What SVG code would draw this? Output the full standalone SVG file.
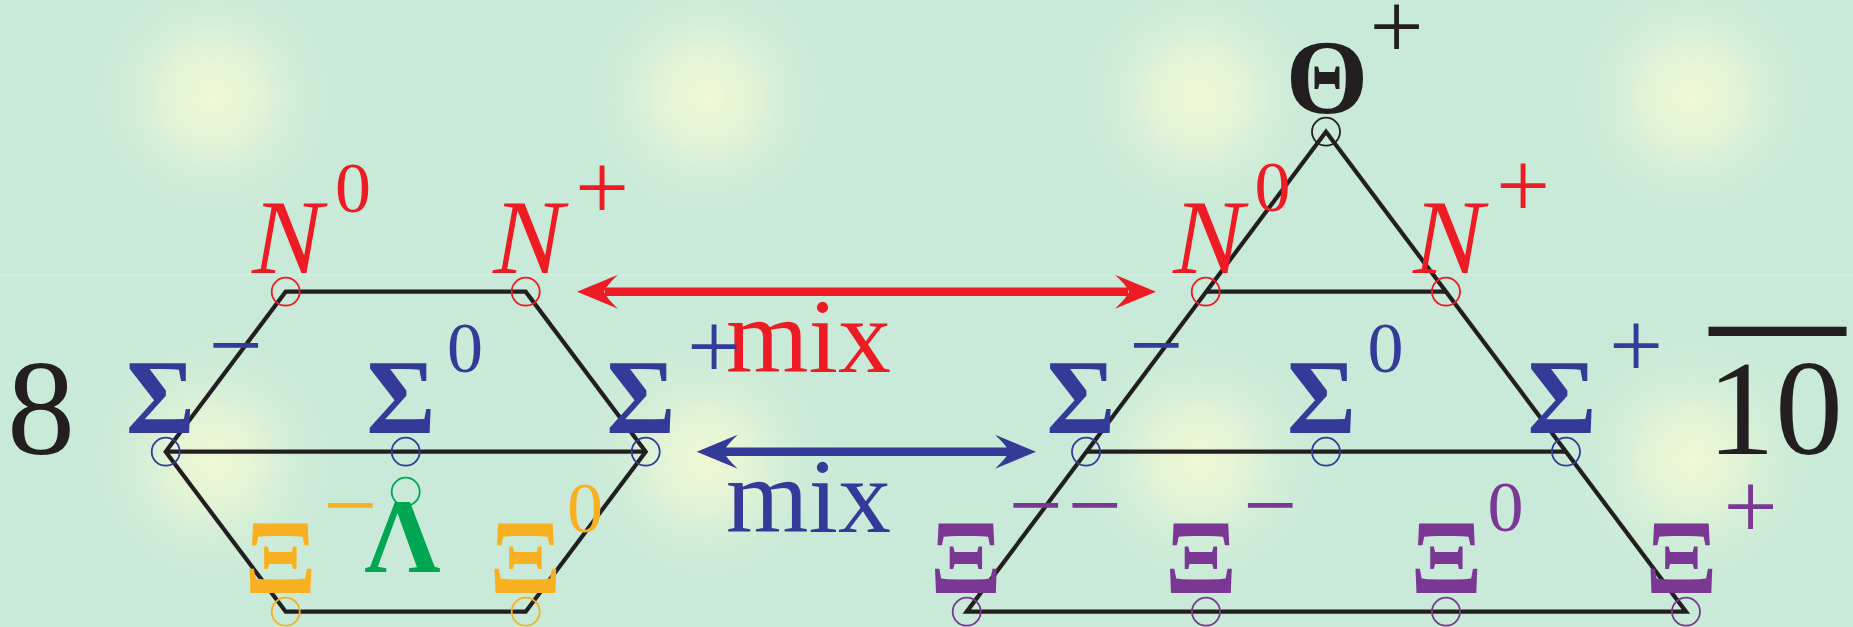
<svg xmlns="http://www.w3.org/2000/svg" width="1853" height="627" viewBox="0 0 1853 627">
<defs>
<radialGradient id="glow" cx="246.5" cy="181.5" r="150" gradientUnits="userSpaceOnUse">
<stop offset="0" stop-color="#f0f8d4" stop-opacity="1"/>
<stop offset="0.3" stop-color="#e8f6d5" stop-opacity="0.8"/>
<stop offset="0.62" stop-color="#d8f0d6" stop-opacity="0.35"/>
<stop offset="1" stop-color="#c9ead8" stop-opacity="0"/>
</radialGradient>
<pattern id="bgpat" patternUnits="userSpaceOnUse" x="-33.5" y="-84.5" width="493" height="363">
<rect width="493" height="363" fill="#c9ead8"/>
<rect width="493" height="363" fill="url(#glow)"/>
</pattern>
<style>
.t{font-family:"Liberation Serif","Times New Roman",serif}
.big{font-size:106px}
.g{font-weight:bold;text-anchor:middle}
.it{font-style:italic}
.sup{font-size:72px;text-anchor:middle}
.op{font-size:96px;text-anchor:middle}
.red{fill:#ed1c24}
.blue{fill:#333a98}
.org{fill:#f8b020}
.grn{fill:#00a651}
.pur{fill:#7a3793}
.blk{fill:#231f20}
.edge{stroke:#231f20;stroke-width:4.2;fill:none;stroke-linejoin:miter}
.c{fill:none;stroke-width:1.8}
.cr{stroke:#ed1c24}.cb{stroke:#333a98}.co{stroke:#f8b020}.cg{stroke:#00a651}.cp{stroke:#7a3793}.ck{stroke:#231f20}
</style>
</defs>
<rect width="1853" height="627" fill="url(#bgpat)"/>
<rect x="0" y="274.5" width="1853" height="1" fill="#ffffff" opacity="0.3"/>

<g id="connectors">
<polygon class="edge" points="285.7,291.7 525.7,291.7 645.7,451.7 525.7,611.7 285.7,611.7 165.7,451.7"/>
<line class="edge" x1="165.7" y1="451.7" x2="645.7" y2="451.7"/>
<polygon class="edge" points="1326,131.7 966.7,611.7 1686,611.7"/>
<line class="edge" x1="1205.7" y1="291.7" x2="1446" y2="291.7"/>
<line class="edge" x1="1086" y1="451.7" x2="1566" y2="451.7"/>
<g id="mix-red">
<line x1="605" y1="291.7" x2="1128" y2="291.7" stroke="#ed1c24" stroke-width="8.5"/>
<path d="M577,291.7 L618,274.7 Q606,286 604,291.7 Q606,297.4 618,308.7 Z" fill="#ed1c24"/>
<path d="M1156,291.7 L1115,274.7 Q1127,286 1129,291.7 Q1127,297.4 1115,308.7 Z" fill="#ed1c24"/>
</g>
<g id="mix-blue">
<line x1="724" y1="451.7" x2="1009" y2="451.7" stroke="#333a98" stroke-width="8.5"/>
<path d="M696.7,451.7 L737.7,434.7 Q725.7,446 723.7,451.7 Q725.7,457.4 737.7,468.7 Z" fill="#333a98"/>
<path d="M1036,451.7 L995,434.7 Q1007,446 1009,451.7 Q1007,457.4 995,468.7 Z" fill="#333a98"/>
</g>
</g>

<g id="label-8"><text class="t blk" x="41" y="454" font-size="136" text-anchor="middle">8</text></g>
<g id="label-10bar">
<rect x="1708.5" y="326.7" width="138" height="9.3" class="blk"/>
<text class="t blk" x="1775" y="454" font-size="136" text-anchor="middle">10</text>
</g>
<g id="mix-red-label"><text class="t big red" x="726" y="371.7">mix</text></g>
<g id="mix-blue-label"><text class="t big blue" x="726" y="531.7">mix</text></g>

<!-- Octet -->
<g id="oct-N0">
<circle class="c cr" cx="285.7" cy="291.7" r="14"/>
<text class="t big it red" x="252" y="273">N</text>
<text class="t sup red" x="353" y="212">0</text>
</g>
<g id="oct-Nplus">
<circle class="c cr" cx="525.7" cy="291.7" r="14"/>
<text class="t big it red" x="493" y="273">N</text>
<text class="t op red" x="602" y="218.5">+</text>
</g>
<g id="oct-Sigmaminus">
<circle class="c cb" cx="165.7" cy="451.7" r="14"/>
<text class="t big g blue" x="160.5" y="433">Σ</text>
<text class="t op blue" x="235.5" y="377">−</text>
</g>
<g id="oct-Sigma0">
<circle class="c cb" cx="405.7" cy="451.7" r="14"/>
<text class="t big g blue" x="401" y="433">Σ</text>
<text class="t sup blue" x="465" y="372">0</text>
</g>
<g id="oct-Sigmaplus">
<circle class="c cb" cx="645.7" cy="451.7" r="14"/>
<text class="t big g blue" x="641" y="433">Σ</text>
<text class="t op blue" x="714" y="377.5">+</text>
</g>
<g id="oct-Lambda">
<circle class="c cg" cx="405.7" cy="491.7" r="14"/>
<text class="t big g grn" x="402.4" y="571.7">Λ</text>
</g>
<g id="oct-Ximinus">
<circle class="c co" cx="285.7" cy="611.7" r="14"/>
<text class="t big g org" x="280.4" y="593">Ξ</text>
<text class="t op org" x="350" y="537">−</text>
</g>
<g id="oct-Xi0">
<circle class="c co" cx="525.7" cy="611.7" r="14"/>
<text class="t big g org" x="525.5" y="593">Ξ</text>
<text class="t sup org" x="585" y="532">0</text>
</g>

<!-- Antidecuplet -->
<g id="dec-Thetaplus">
<circle class="c ck" cx="1326" cy="131.7" r="14"/>
<text class="t big g blk" x="1327" y="112.5">Θ</text>
<text class="t op blk" x="1396.5" y="58">+</text>
</g>
<g id="dec-N0">
<circle class="c cr" cx="1205.7" cy="291.7" r="14"/>
<text class="t big it red" x="1173" y="273">N</text>
<text class="t sup red" x="1272.5" y="211">0</text>
</g>
<g id="dec-Nplus">
<circle class="c cr" cx="1446" cy="291.7" r="14"/>
<text class="t big it red" x="1413" y="273">N</text>
<text class="t op red" x="1523" y="217">+</text>
</g>
<g id="dec-Sigmaminus">
<circle class="c cb" cx="1086" cy="451.7" r="14"/>
<text class="t big g blue" x="1081" y="433">Σ</text>
<text class="t op blue" x="1156" y="376.7">−</text>
</g>
<g id="dec-Sigma0">
<circle class="c cb" cx="1326" cy="451.7" r="14"/>
<text class="t big g blue" x="1321.5" y="433">Σ</text>
<text class="t sup blue" x="1385.5" y="372">0</text>
</g>
<g id="dec-Sigmaplus">
<circle class="c cb" cx="1566" cy="451.7" r="14"/>
<text class="t big g blue" x="1562" y="433">Σ</text>
<text class="t op blue" x="1636" y="377">+</text>
</g>
<g id="dec-Ximinusminus">
<circle class="c cp" cx="966.7" cy="611.7" r="14"/>
<text class="t big g pur" x="966" y="593">Ξ</text>
<text class="t op pur" x="1035.5" y="537">−</text>
<text class="t op pur" x="1094.5" y="537">−</text>
</g>
<g id="dec-Ximinus">
<circle class="c cp" cx="1206" cy="611.7" r="14"/>
<text class="t big g pur" x="1201" y="593">Ξ</text>
<text class="t op pur" x="1270" y="537">−</text>
</g>
<g id="dec-Xi0">
<circle class="c cp" cx="1446" cy="611.7" r="14"/>
<text class="t big g pur" x="1446.5" y="593">Ξ</text>
<text class="t sup pur" x="1505.5" y="531">0</text>
</g>
<g id="dec-Xiplus">
<circle class="c cp" cx="1686" cy="611.7" r="14"/>
<text class="t big g pur" x="1681.3" y="593">Ξ</text>
<text class="t op pur" x="1750.5" y="537.5">+</text>
</g>
</svg>
